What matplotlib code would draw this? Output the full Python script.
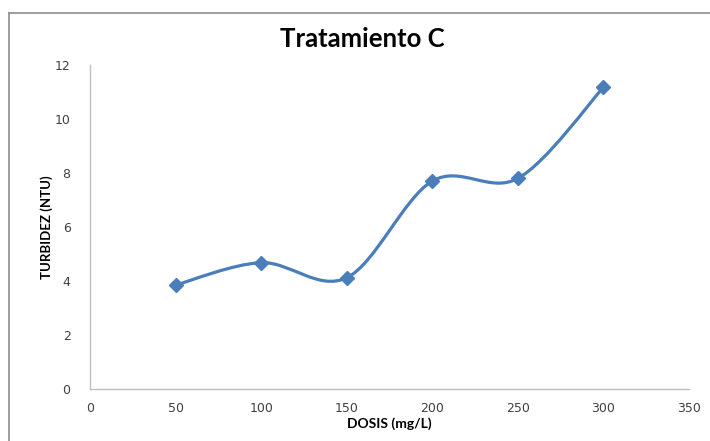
import matplotlib
matplotlib.use("Agg")
import matplotlib.pyplot as plt
from matplotlib.path import Path
from matplotlib.patches import PathPatch
from matplotlib.lines import Line2D
import numpy as np

# Data
dosis = [50, 100, 150, 200, 250, 300]
turbidez = [3.85, 4.68, 4.12, 7.70, 7.80, 11.17]
x_ticks = [0, 50, 100, 150, 200, 250, 300, 350]
y_ticks = [0, 2, 4, 6, 8, 10, 12]

title = "Tratamiento C"
x_label = "DOSIS (mg/L)"
y_label = "TURBIDEZ (NTU)"

color = "#4a7ebb"
font = "Lato"
tick_font = "DejaVu Sans"

W, H = 710, 441
fig = plt.figure(figsize=(W / 100, H / 100), dpi=100)
ax = fig.add_axes([90 / W, 1 - 389 / H, (689 - 90) / W, (389 - 65) / H])

# Smoothed line through the points (Catmull-Rom style cubic Beziers)
px = np.array(dosis, dtype=float)
py = np.array(turbidez, dtype=float)
pts = np.column_stack([px, py])
n = len(pts)
verts = [pts[0]]
codes = [Path.MOVETO]
for i in range(n - 1):
    p0 = pts[i - 1] if i > 0 else pts[i]
    p1 = pts[i]
    p2 = pts[i + 1]
    p3 = pts[i + 2] if i + 2 < n else pts[i + 1]
    c1 = p1 + (p2 - p0) / 6.0
    c2 = p2 - (p3 - p1) / 6.0
    verts += [c1, c2, p2]
    codes += [Path.CURVE4] * 3
ax.add_patch(PathPatch(Path(verts, codes), facecolor="none", edgecolor=color,
                       lw=2.3, capstyle="round", zorder=3))
ax.plot(dosis, turbidez, linestyle="none", marker="D", markersize=7.5,
        color=color, zorder=4)

ax.set_xlim(x_ticks[0], x_ticks[-1])
ax.set_ylim(y_ticks[0], y_ticks[-1])
ax.set_xticks(x_ticks)
ax.set_yticks(y_ticks)
ax.tick_params(length=0, labelsize=9, labelcolor="#404040")
ax.tick_params(axis="x", pad=9)
ax.tick_params(axis="y", pad=14)
for lbl in ax.get_xticklabels() + ax.get_yticklabels():
    lbl.set_family(tick_font)

for side in ("top", "right"):
    ax.spines[side].set_visible(False)
for side in ("left", "bottom"):
    ax.spines[side].set_color("#bfbfbf")
    ax.spines[side].set_linewidth(1.0)

ax.set_xlabel(x_label, fontsize=10, fontweight="bold", family=font, labelpad=2)
ax.set_ylabel(y_label, fontsize=9.5, fontweight="bold", family=font, labelpad=1)

fig.text(362 / W, 1 - 39 / H, title, ha="center", va="center",
         fontsize=18.5, fontweight="bold", family=font)

# Chart area border
fig.add_artist(Line2D([9 / W, 1.0], [1 - 13 / H, 1 - 13 / H], color="#8c8c8c",
                      lw=1.2, transform=fig.transFigure))
fig.add_artist(Line2D([9 / W, 9 / W], [0.0, 1 - 13 / H], color="#8c8c8c",
                      lw=1.2, transform=fig.transFigure))

fig.savefig("out.png", dpi=100)
